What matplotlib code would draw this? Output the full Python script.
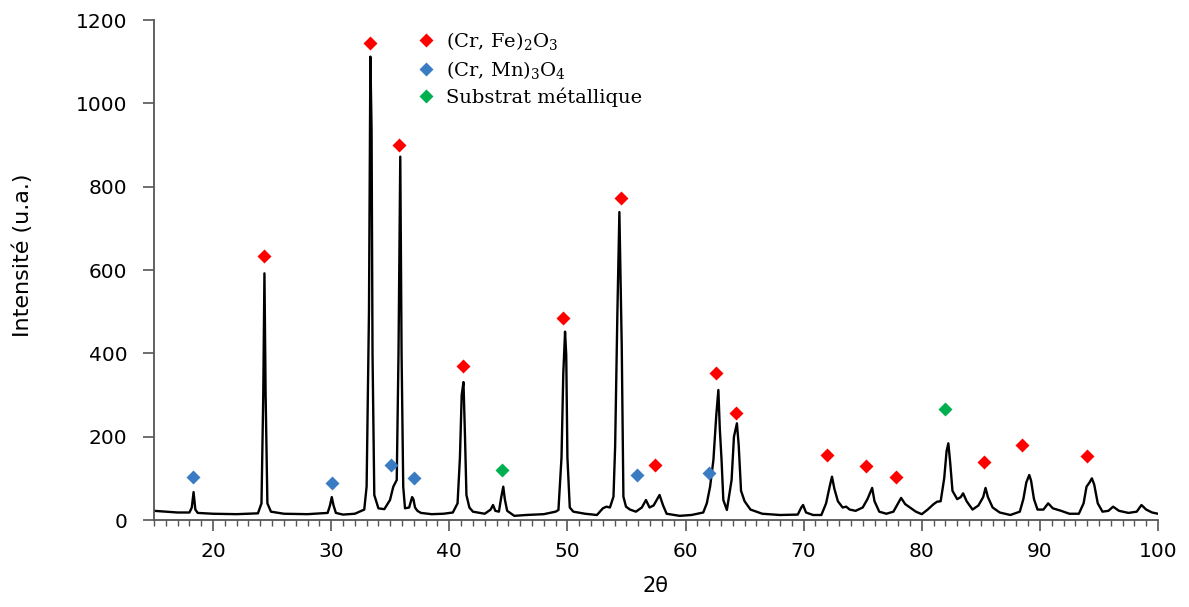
import matplotlib
matplotlib.use("Agg")
import matplotlib.pyplot as plt
from matplotlib.lines import Line2D

plt.rcParams['mathtext.fontset'] = 'dejavuserif'

# ---- traced XRD pattern (2theta, intensity) ----
two_theta = [15.0, 16.0, 17.0, 18.0, 18.2, 18.35, 18.5, 18.7, 20.0, 22.0, 23.8, 24.1, 24.25, 24.35, 24.45, 24.6, 24.9,
             26.0, 28.0, 29.7, 29.9, 30.05, 30.2, 30.4, 31.0, 32.0, 32.8, 33.0, 33.2, 33.32, 33.42, 33.5, 33.65, 34.0,
             34.5, 34.98, 35.26, 35.55, 35.7, 35.85, 35.96, 36.1, 36.25, 36.6, 36.85, 36.96, 37.1, 37.3, 37.6, 38.5,
             39.5, 40.3, 40.7, 40.9, 41.05, 41.2, 41.33, 41.45, 41.7, 42.0, 43.0, 43.5, 43.7, 43.9, 44.2, 44.4, 44.57,
             44.7, 44.9, 45.5, 46.5, 48.0, 49.0, 49.24, 49.5, 49.65, 49.8, 49.9, 50.0, 50.2, 50.5, 51.5, 52.5, 53.0,
             53.3, 53.6, 53.9, 54.04, 54.23, 54.4, 54.6, 54.74, 54.96, 55.3, 55.8, 56.3, 56.65, 56.95, 57.3, 57.8,
             58.1, 58.4, 59.5, 60.5, 61.5, 61.8, 62.08, 62.36, 62.6, 62.78, 62.9, 63.05, 63.2, 63.5, 63.9, 64.1,
             64.35, 64.5, 64.7, 65.0, 65.5, 66.5, 68.0, 69.5, 69.8, 69.95, 70.2, 70.8, 71.5, 71.9, 72.2, 72.4, 72.6,
             72.9, 73.3, 73.6, 73.9, 74.4, 75.0, 75.4, 75.8, 76.0, 76.4, 77.0, 77.6, 78.0, 78.25, 78.6, 79.0, 79.5,
             80.0, 80.5, 81.0, 81.3, 81.6, 81.9, 82.1, 82.25, 82.4, 82.6, 83.0, 83.3, 83.5, 83.8, 84.3, 84.8, 85.2,
             85.4, 85.6, 86.0, 86.6, 87.5, 88.3, 88.6, 88.85, 89.1, 89.25, 89.5, 89.8, 90.3, 90.7, 91.1, 91.8, 92.5,
             93.3, 93.7, 93.95, 94.2, 94.4, 94.6, 94.9, 95.3, 95.8, 96.2, 96.7, 97.5, 98.2, 98.6, 99.0, 99.5, 100.0]
intensity = [22, 20, 18, 18, 30, 67, 25, 17, 15, 14, 16, 40, 300, 592, 300, 40, 20,
             15, 14, 17, 35, 55, 35, 17, 13, 15, 25, 80, 500, 1112, 936, 400, 60, 28,
             26, 48, 80, 96, 400, 872, 400, 80, 28, 30, 55, 50, 30, 22, 17, 14,
             15, 18, 40, 150, 300, 331, 200, 60, 30, 20, 15, 25, 36, 22, 20, 55, 80,
             50, 22, 10, 12, 14, 20, 24, 150, 350, 452, 396, 150, 30, 20, 15, 12, 28,
             32, 30, 56, 176, 496, 739, 416, 56, 32, 25, 20, 30, 48, 30, 35, 60,
             35, 15, 10, 12, 18, 40, 80, 144, 250, 312, 220, 144, 48, 24, 96, 200,
             232, 180, 70, 45, 25, 15, 12, 13, 30, 36, 18, 12, 12, 40, 80, 104, 75,
             45, 30, 32, 25, 22, 30, 50, 77, 45, 20, 15, 20, 40, 53, 38, 30, 20,
             14, 25, 38, 44, 45, 100, 165, 184, 140, 70, 50, 55, 64, 45, 25, 35, 55,
             77, 55, 30, 18, 12, 20, 50, 90, 108, 95, 50, 25, 25, 40, 28, 22, 15,
             15, 40, 80, 90, 100, 85, 40, 20, 22, 32, 22, 17, 20, 36, 25, 18, 15]

# ---- phase markers ----
crfe_x = [24.3, 33.3, 35.7, 41.2, 49.6, 54.5, 57.4, 62.6, 64.3, 72.0, 75.3, 77.8, 85.3, 88.5, 94.0]
crfe_y = [634, 1145, 900, 370, 485, 773, 133, 352, 256, 157, 129, 103, 139, 179, 153]
crmn_x = [18.3, 30.1, 35.05, 37.0, 55.9, 62.0]
crmn_y = [104, 89, 132, 101, 107, 112]
sub_x = [44.5, 82.0]
sub_y = [121, 267]

labels = ['(Cr, Fe)$_\\mathrm{2}$O$_\\mathrm{3}$', '(Cr, Mn)$_\\mathrm{3}$O$_\\mathrm{4}$', 'Substrat métallique']
colors = ['#ff0000', '#3a7cc3', '#00b050']

fig = plt.figure(figsize=(11.89, 6.07), dpi=100)
ax = fig.add_axes([154/1189, 87/607, 1004/1189, 500/607])

ax.plot(two_theta, intensity, color='black', lw=1.7, zorder=2)
ms = 7
ax.plot(crfe_x, crfe_y, 'D', color=colors[0], ms=ms, mec='none', zorder=3)
ax.plot(crmn_x, crmn_y, 'D', color=colors[1], ms=ms, mec='none', zorder=3)
ax.plot(sub_x, sub_y, 'D', color=colors[2], ms=ms, mec='none', zorder=3)

ax.set_xlim(15, 100)
ax.set_ylim(0, 1200)
ax.set_xticks(range(20, 101, 10))
ax.set_xticks(range(15, 101, 1), minor=True)
ax.set_yticks(range(0, 1201, 200))

for s in ['top', 'right']:
    ax.spines[s].set_visible(False)
for s in ['left', 'bottom']:
    ax.spines[s].set_color('#555555')
    ax.spines[s].set_linewidth(1.3)

tick_font = ['DejaVu Sans']
ax.tick_params(axis='y', which='major', direction='out', length=8, width=1.2, color='#555555', pad=11,
               labelsize=14.5)
ax.tick_params(axis='x', which='major', direction='out', length=8, width=1.2, color='#555555', pad=8,
               labelsize=14.5)
ax.tick_params(axis='x', which='minor', direction='out', length=4.5, width=1.0, color='#555555')
for lab in ax.get_yticklabels() + ax.get_xticklabels():
    lab.set_family(tick_font)

ax.set_xlabel('2θ', fontsize=15, family=tick_font, labelpad=11)
ax.set_ylabel('Intensité (u.a.)', fontsize=16, family=tick_font)
ax.yaxis.set_label_coords(-0.121, 0.53)

handles = [Line2D([], [], ls='none', marker='D', color=c, ms=ms, mec='none') for c in colors]
leg = ax.legend(handles, labels, loc='upper left', bbox_to_anchor=(0.253, 1.0), frameon=False,
                prop={'family': 'DejaVu Serif', 'size': 14}, handlelength=0.9, handletextpad=0.55,
                labelspacing=0.35, borderpad=0)

fig.savefig('out.png', dpi=100)
